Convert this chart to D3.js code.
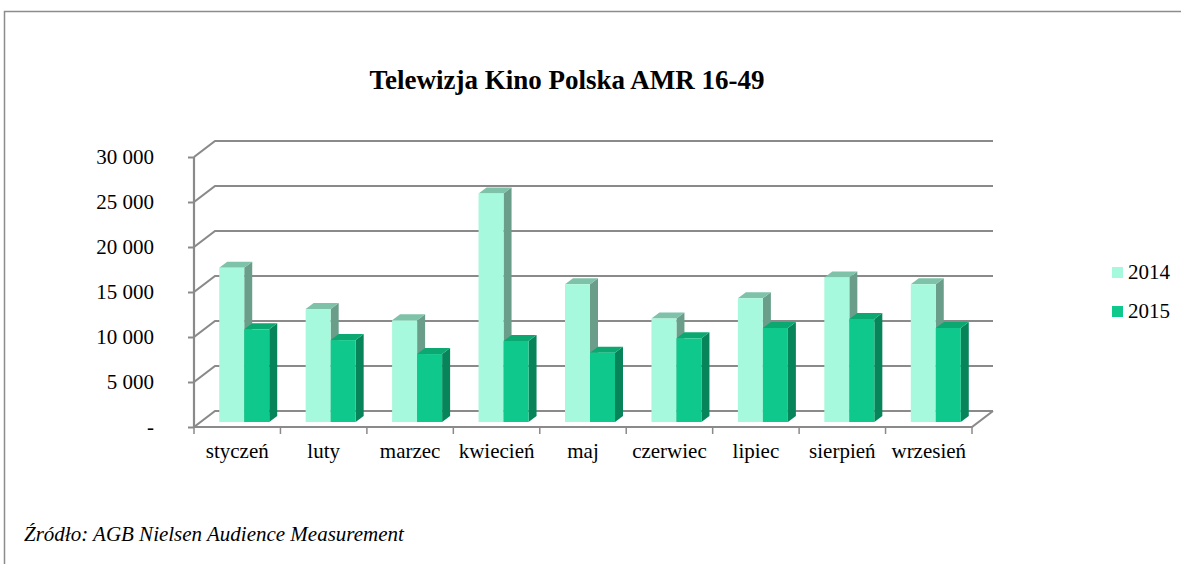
<!DOCTYPE html>
<html>
<head>
    <meta charset="utf-8">
    <title>Telewizja Kino Polska AMR 16-49</title>
    <script src="https://cdn.jsdelivr.net/npm/d3@7"></script>
    <style>
        body { margin: 0; background: #fff; }
        svg { display: block; }
    </style>
</head>
<body>
    <svg id="chart" width="1181" height="564"></svg>
    <script>
        // data
        var months = ["styczeń", "luty", "marzec", "kwiecień", "maj", "czerwiec", "lipiec", "sierpień", "wrzesień"];
        var years = ["2014", "2015"];
        var values2014 = [17150, 12550, 11300, 25400, 15300, 11500, 13750, 16050, 15300];
        var values2015 = [10300, 9100, 7550, 9000, 7700, 9300, 10450, 11450, 10450];
        var yTicks = [0, 5000, 10000, 15000, 20000, 25000, 30000];

        var svg = d3.select("#chart");
        var serif = "'Liberation Serif', 'Times New Roman', serif";
        var gridColor = "#8a8a8a";

        // frame
        svg.append("path")
            .attr("d", "M4.5,564 L4.5,11.5 L1181,11.5")
            .attr("fill", "none")
            .attr("stroke", "#8c8c8c")
            .attr("stroke-width", 1.5);

        // 3d geometry of the plot
        var left = 194, right = 972,
            depthX = 21, depthY = -16,       // wall depth
            barOffX = 7, barOffY = -5,        // bars sit a third of the way back
            barDX = 8, barDY = -6;            // bar thickness

        var x0 = d3.scaleBand().domain(months).range([left, right]);
        var groupW = 50;
        var x1 = d3.scaleBand().domain(years)
            .range([(x0.bandwidth() - groupW) / 2, (x0.bandwidth() + groupW) / 2]);
        var y = d3.scaleLinear().domain([0, 30000]).range([427, 157]);

        var fmt = d3.formatLocale({ thousands: " ", grouping: [3], decimal: ",", currency: ["", ""] }).format(",");

        // gridlines on back wall + connectors on the left wall
        var grid = svg.append("g")
            .attr("fill", "none")
            .attr("stroke", gridColor)
            .attr("stroke-width", 2.2);

        yTicks.forEach(function(t) {
            grid.append("path")
                .attr("d", "M" + left + "," + y(t) + " L" + (left + depthX) + "," + (y(t) + depthY) +
                    " L" + (right + depthX) + "," + (y(t) + depthY));
        });
        // floor front edge and right side
        grid.append("path")
            .attr("d", "M" + left + "," + y(0) + " L" + right + "," + y(0) +
                " L" + (right + depthX) + "," + (y(0) + depthY));
        // left axis line
        grid.append("path")
            .attr("d", "M" + left + "," + y(30000) + " L" + left + "," + y(0));

        // y axis labels and ticks
        var yAxis = svg.append("g")
            .attr("transform", "translate(" + left + ",0)")
            .call(d3.axisLeft(y).tickValues(yTicks).tickSize(6).tickPadding(34)
                .tickFormat(function(d) { return d === 0 ? "-" : fmt(d); }));
        yAxis.select(".domain").remove();
        yAxis.selectAll(".tick line").attr("stroke", gridColor).attr("stroke-width", 2);
        yAxis.selectAll(".tick text")
            .attr("font-family", serif)
            .attr("font-size", "21px")
            .attr("fill", "#000");

        // category ticks on the floor edge
        var boundaries = months.map(function(m) { return x0(m); }).concat([right]);
        svg.append("g").selectAll("line")
            .data(boundaries)
            .enter().append("line")
            .attr("x1", function(d) { return d; })
            .attr("x2", function(d) { return d; })
            .attr("y1", y(0))
            .attr("y2", y(0) + 7)
            .attr("stroke", gridColor)
            .attr("stroke-width", 1.5);

        // x labels
        var xAxis = svg.append("g")
            .attr("transform", "translate(0," + y(0) + ")")
            .call(d3.axisBottom(x0).tickSize(0).tickPadding(16));
        xAxis.select(".domain").remove();
        xAxis.selectAll(".tick text")
            .attr("font-family", serif)
            .attr("font-size", "21px")
            .attr("fill", "#000");

        // bars
        var colors = {
            "2014": { front: "#a6f9dc", top: "#7ec2a9", side: "#6a9e8a" },
            "2015": { front: "#0ec98b", top: "#0ba872", side: "#08845a" }
        };
        var barData = [];
        months.forEach(function(m, i) {
            barData.push({ month: m, year: "2014", value: values2014[i] });
            barData.push({ month: m, year: "2015", value: values2015[i] });
        });

        var bars = svg.append("g").selectAll("g")
            .data(barData)
            .enter().append("g");

        bars.each(function(d) {
            var g = d3.select(this);
            var xa = x0(d.month) + x1(d.year) + barOffX,
                xb = xa + x1.bandwidth(),
                yb = y(0) + barOffY,
                yt = y(d.value) + barOffY;
            var c = colors[d.year];
            g.append("path")
                .attr("d", "M" + xb + "," + yb + " L" + (xb + barDX) + "," + (yb + barDY) +
                    " L" + (xb + barDX) + "," + (yt + barDY) + " L" + xb + "," + yt + "Z")
                .attr("fill", c.side);
            g.append("path")
                .attr("d", "M" + xa + "," + yt + " L" + (xa + barDX) + "," + (yt + barDY) +
                    " L" + (xb + barDX) + "," + (yt + barDY) + " L" + xb + "," + yt + "Z")
                .attr("fill", c.top);
            g.append("rect")
                .attr("x", xa)
                .attr("y", yt)
                .attr("width", xb - xa)
                .attr("height", yb - yt)
                .attr("fill", c.front);
        });

        // title
        svg.append("text")
            .attr("x", 567)
            .attr("y", 89)
            .attr("text-anchor", "middle")
            .attr("font-family", serif)
            .attr("font-weight", "bold")
            .attr("font-size", "27px")
            .text("Telewizja Kino Polska AMR 16-49");

        // legend
        var legend = svg.append("g").selectAll("g")
            .data(years)
            .enter().append("g")
            .attr("transform", function(d, i) { return "translate(1112," + (267 + i * 39) + ")"; });
        legend.append("rect")
            .attr("width", 11)
            .attr("height", 11)
            .attr("fill", function(d) { return colors[d].front; });
        legend.append("text")
            .attr("x", 16)
            .attr("y", 12)
            .attr("font-family", serif)
            .attr("font-size", "21px")
            .text(function(d) { return d; });

        // source
        svg.append("text")
            .attr("x", 24)
            .attr("y", 541)
            .attr("font-family", serif)
            .attr("font-style", "italic")
            .attr("font-size", "21px")
            .text("Źródło: AGB Nielsen Audience Measurement");
    </script>
</body>
</html>
